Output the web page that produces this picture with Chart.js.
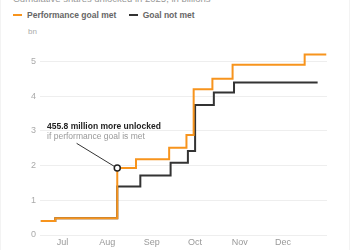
<!DOCTYPE html>
<html>
<head>
<meta charset="utf-8">
<script src="https://cdn.jsdelivr.net/npm/chart.js@4.4.1/dist/chart.umd.min.js"></script>
<style>
  html, body { margin: 0; padding: 0; background: #fff; }
  body { width: 350px; height: 250px; overflow: hidden; position: relative; font-family: "Liberation Sans", Arial, sans-serif; }
  .frame { position: absolute; left: 0; top: 0; width: 348px; height: 250px; border-left: 1px solid #f3f3f3; border-right: 1px solid #f3f3f3; }
  .title { position: absolute; left: 13px; top: -7px; font-size: 9.5px; color: #999; white-space: nowrap; }
  .legend { position: absolute; left: 13px; top: 9px; font-size: 8.5px; color: #666; font-weight: bold; white-space: nowrap; }
  .legend span { display: inline-block; vertical-align: middle; }
  .legend .sw { width: 9px; height: 2px; margin-right: 5px; }
  .legend .gap { width: 10px; }
  .unit { position: absolute; left: 28px; top: 27px; font-size: 8px; color: #aaa; }
  #chart { position: absolute; left: 0; top: 0; }
</style>
</head>
<body>
<div class="frame"></div>
<div class="title">Cumulative shares unlocked in 2025, in billions</div>
<div class="legend">
  <span class="sw" style="background:#f7941d"></span><span>Performance goal met</span><span class="gap"></span>
  <span class="sw" style="background:#333"></span><span>Goal not met</span>
</div>
<div class="unit">bn</div>
<canvas id="chart" width="350" height="250"></canvas>
<script>
// x values: days counted from Jul 1
const monthStarts = [0, 31, 62, 92, 123, 153];
const monthLabels = ["Jul", "Aug", "Sep", "Oct", "Nov", "Dec"];
const yTicks = [0, 1, 2, 3, 4, 5];

const goalMetDays = [-15, -5, 38, 51, 74, 86, 91, 104, 118, 168, 183];
const goalMetValues = [0.40, 0.48, 1.93, 2.18, 2.51, 2.88, 4.20, 4.50, 4.90, 5.20, 5.20];

const goalNotMetDays = [-15, -5, 38, 54, 75, 87, 92, 105, 119, 177];
const goalNotMetValues = [0.40, 0.48, 1.40, 1.71, 2.08, 2.42, 3.74, 4.10, 4.39, 4.39];

const markerDay = 38;
const markerValue = 1.93;
const noteTitle = "455.8 million more unlocked";
const noteSub = "if performance goal is met";

function toPoints(xs, ys) {
  return xs.map((x, i) => ({ x: x, y: ys[i] }));
}

const annotationPlugin = {
  id: "note",
  afterDatasetsDraw(chart) {
    const ctx = chart.ctx;
    const xs = chart.scales.x;
    const ys = chart.scales.y;
    const tx = xs.getPixelForValue(-10.7);
    const ty = ys.getPixelForValue(3.11);
    const px = xs.getPixelForValue(markerDay);
    const py = ys.getPixelForValue(markerValue);

    ctx.save();
    ctx.strokeStyle = "#333";
    ctx.lineWidth = 1;
    ctx.beginPath();
    ctx.moveTo(xs.getPixelForValue(9.8), ys.getPixelForValue(2.64));
    ctx.lineTo(px - 2.8, py - 1.5);
    ctx.stroke();

    ctx.textBaseline = "middle";
    ctx.fillStyle = "#222";
    ctx.font = "bold 8.5px 'Liberation Sans', Arial, sans-serif";
    ctx.fillText(noteTitle, tx, ty);
    ctx.fillStyle = "#999";
    ctx.font = "8.5px 'Liberation Sans', Arial, sans-serif";
    ctx.fillText(noteSub, tx, ty + 9.5);
    ctx.restore();
  }
};

new Chart(document.getElementById("chart"), {
  type: "line",
  data: {
    datasets: [
      {
        type: "scatter",
        data: [{ x: markerDay, y: markerValue }],
        pointRadius: 3,
        pointBackgroundColor: "#fff",
        pointBorderColor: "#222",
        pointBorderWidth: 1.5,
        order: 0
      },
      {
        label: "Performance goal met",
        data: toPoints(goalMetDays, goalMetValues),
        borderColor: "#f7941d",
        borderWidth: 2,
        stepped: "before",
        pointRadius: 0,
        clip: false,
        order: 1
      },
      {
        label: "Goal not met",
        data: toPoints(goalNotMetDays, goalNotMetValues),
        borderColor: "#333",
        borderWidth: 2,
        stepped: "before",
        pointRadius: 0,
        clip: false,
        order: 2
      }
    ]
  },
  options: {
    responsive: false,
    animation: false,
    layout: { padding: { left: 0, right: 23, top: 44, bottom: 0 } },
    plugins: {
      legend: { display: false },
      tooltip: { enabled: false }
    },
    scales: {
      x: {
        type: "linear",
        min: -15.6,
        max: 183.5,
        afterBuildTicks: scale => { scale.ticks = monthStarts.map(v => ({ value: v })); },
        afterFit: scale => { scale.height = 15; },
        grid: { display: false, drawTicks: false },
        border: { display: false },
        ticks: {
          padding: 2,
          color: "#999",
          font: { size: 9, family: "'Liberation Sans', Arial, sans-serif" },
          maxRotation: 0,
          autoSkip: false,
          callback: (v) => monthLabels[monthStarts.indexOf(v)]
        }
      },
      y: {
        min: 0,
        max: 5.5,
        afterBuildTicks: scale => { scale.ticks = yTicks.map(v => ({ value: v })); },
        afterFit: scale => { scale.width = 40; },
        grid: { color: "#eeeeee", drawTicks: false, lineWidth: 1 },
        border: { display: false },
        ticks: {
          padding: 4,
          color: "#aaa",
          font: { size: 9, family: "'Liberation Sans', Arial, sans-serif" }
        }
      }
    }
  },
  plugins: [annotationPlugin]
});
</script>
</body>
</html>
